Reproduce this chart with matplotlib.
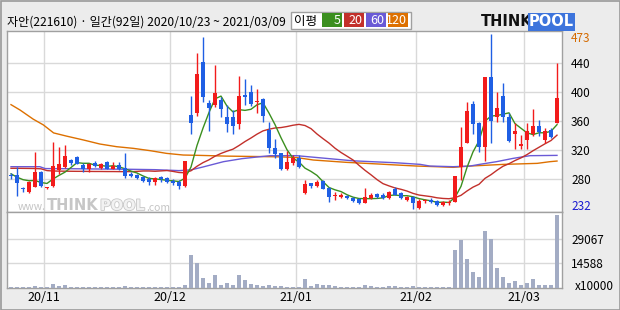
import matplotlib
matplotlib.use("Agg")
import matplotlib.pyplot as plt
import matplotlib.patheffects as pe
from matplotlib.patches import Rectangle

plt.rcParams['font.family'] = ['Noto Sans CJK KR', 'DejaVu Sans']

# ---------------- data ----------------
title = "자안(221610) · 일간(92일) 2020/10/23 ~ 2021/03/09"
month_labels = ["20/11", "20/12", "21/01", "21/02", "21/03"]
month_start_idx = [6, 27, 48, 68, 86]
price_ticks = [440, 400, 360, 320, 280]
price_max_label = "473"
price_min_label = "232"
vol_ticks = [14588, 29067]
legend_periods = ["5", "20", "60", "120"]

opens = [285.5, 286, 266.5, 262, 270, 290, 267.5, 271, 293, 297,
         306.6, 311, 299.7, 293.7, 302, 295.6, 304, 294.6, 299.7, 295,
         288, 286, 283.6, 280, 276.7, 283.6, 282, 278, 276, 271,
         368.7, 372, 441.8, 385.7, 382.5, 389, 365.5, 365.5, 356, 396,
         400.4, 386, 390.8, 348, 323.6, 316.7, 293.7, 302, 309, 260.6,
         275.3, 271, 277.6, 267.5, 256.6, 256, 257.4, 254.6, 252.8, 247.7,
         254.2, 259.7, 258.8, 253.7, 266, 260.6, 251.4, 255, 240.8, 250,
         251.4, 250, 244.5, 247.8, 249, 297, 330.5, 383.9, 357, 324,
         420.7, 365.5, 394.9, 365.5, 342, 325.9, 334, 342, 353.5, 334,
         348, 358]
highs = [289, 297, 270, 277, 317, 291, 270, 331, 325, 327,
         307.5, 312, 302, 303, 305, 303, 305.7, 304, 304, 316,
         290, 288, 285, 283.6, 283.6, 285, 283.6, 280, 279, 305.5,
         395, 454, 477, 389, 437.7, 394, 382.5, 375.6, 422.5, 419,
         410, 404.6, 391.7, 359.5, 335.6, 316.7, 319.5, 313.5, 313.5, 279,
         275.3, 279, 279, 269.8, 262, 260.6, 259, 256, 254.6, 268.4,
         261.5, 260.6, 260.6, 264.3, 269.8, 262, 257.4, 256.9, 252.3, 252.3,
         253.7, 251.4, 250.5, 251.4, 285, 352.6, 387, 388.5, 359.5, 420.7,
         480, 400.9, 413.3, 371, 357.2, 341, 357.2, 377, 361.8, 350.3,
         351, 440]
lows = [281, 257, 262, 261, 269, 270, 266, 270, 288, 295,
        300, 300.5, 290.5, 290.5, 297, 293.7, 293.7, 293.7, 292.8, 282,
        283.6, 281, 276.7, 271.6, 271.6, 276.7, 274.4, 272.6, 267, 270,
        342, 367, 387, 347, 380, 366.4, 345.7, 342, 350, 382.5,
        381, 371, 359.5, 316.7, 309, 292.8, 292.8, 299.7, 295, 259.7,
        267.5, 269.8, 266, 249, 251, 253.7, 252.3, 248.6, 245.4, 246.8,
        252.3, 253.7, 253, 252.3, 257.8, 252.3, 250, 239, 238.5, 246.8,
        246.8, 243.6, 243.6, 244.5, 248.2, 279, 330, 342.5, 318, 305.7,
        330.5, 359.5, 359.5, 332, 321.3, 321.3, 321.3, 339.7, 339.7, 329.6,
        336.5, 357]
closes = [284.8, 275.3, 266, 276, 289.6, 271, 268, 298, 301, 312,
          303, 301, 293.7, 301, 299, 301, 294.6, 298, 293.7, 285,
          285, 282, 278, 276, 282, 280.4, 276.7, 274.4, 271, 305,
          358, 425, 394, 378.8, 399.5, 376.5, 356, 354, 395, 394,
          384, 387, 367.8, 323.6, 314.9, 293.7, 304, 309.8, 296.5, 273,
          271, 276.7, 267, 256, 257, 258.8, 254.6, 250.5, 246.8, 256,
          258.8, 256, 254.6, 263, 259, 254.6, 256, 246.8, 250.5, 250.5,
          248.2, 244.5, 249, 248.2, 285, 325, 374.7, 356.3, 324, 420.7,
          360.9, 377.9, 365.5, 333.3, 346.6, 328.7, 346.6, 353.5, 345.7, 346.6,
          338.8, 392.6]
volumes = [500, 500, 500, 500, 1000, 500, 500, 2400, 1200, 1800,
           500, 500, 500, 500, 500, 500, 500, 500, 500, 1200,
           500, 500, 500, 500, 500, 500, 500, 500, 500, 2000,
           19400, 14700, 5900, 2900, 7600, 1800, 2900, 1800, 7600, 4700,
           2400, 1800, 1200, 1800, 1200, 1200, 600, 600, 600, 5300,
           1200, 2400, 1800, 1800, 1200, 600, 600, 600, 600, 1800,
           1200, 600, 600, 1200, 1200, 600, 600, 1200, 600, 600,
           600, 600, 600, 600, 22400, 28300, 17300, 9400, 6500, 33600,
           28900, 11800, 6500, 2900, 4100, 1800, 2900, 5300, 1800, 1800,
           1800, 43000]

ma5 = [287.5, 283, 279.5, 278, 278.4, 275.6, 274.3, 280.4, 285.4, 289.9,
       296.3, 303, 302.1, 302.1, 299.5, 299.1, 297.9, 298.7, 297.3, 294.5,
       291.3, 288.7, 284.7, 281.2, 280.6, 279.7, 278.6, 277.9, 276.9, 281.5,
       297, 326.7, 350.6, 372.2, 391, 394.8, 381, 373, 376.1, 375.1,
       376.6, 382.8, 385.6, 371.3, 355.5, 337.4, 320.8, 309.2, 303.8, 295.4,
       290.9, 285.4, 276.8, 268.7, 265.5, 263.1, 258.7, 255.4, 253.5, 253.3,
       253.3, 253.6, 254.4, 257.7, 258.3, 257.4, 257.4, 255.9, 253.4, 251.7,
       250.4, 248.1, 248.5, 248.1, 255, 270.3, 296.4, 317.8, 333, 360.1,
       367.3, 368, 369.8, 371.7, 356.8, 350.4, 344.1, 341.7, 344.2, 344.2,
       346.2, 355.4]
ma20 = [295.2, 295.2, 295.1, 295, 294.9, 294.5, 292, 291.5, 291.3, 291.2,
        291.1, 291, 291, 290.9, 290.8, 290.8, 290.7, 290.7, 290.6, 290.6,
        290.6, 290.9, 291.5, 291.5, 291.1, 291.6, 292.1, 290.9, 289.4, 289,
        291.8, 298, 303, 306.9, 311.9, 315.7, 318.8, 321.6, 326.6, 332.1,
        337, 342.3, 346.8, 349.1, 350.8, 351.4, 352.8, 354.6, 355.8, 354.2,
        349.9, 342.5, 336.1, 330, 322.9, 317, 311.9, 306.7, 299.3, 292.4,
        286.2, 279.6, 274, 270.9, 268.1, 266.2, 263.8, 260.6, 258.3, 257.2,
        256.1, 254.5, 253.6, 253.2, 254.6, 257.9, 263.9, 269.2, 273.1, 281.3,
        286.4, 292.5, 298, 301.5, 305.9, 309.6, 314.1, 319.4, 324.2, 329,
        333.5, 340.9]
ma60_x = [0, 4.8, 5.7, 10, 15, 20, 24, 28, 30, 32, 35.4, 38.5, 41.5, 43.2,
          47.6, 52.5, 57, 61, 64, 68.2, 69.8, 73.7, 76.5, 78.1, 80.9, 83.7,
          86.5, 91]
ma60 = [297.4, 297.4, 294.8, 294.6, 294.2, 293.8, 293.3, 292, 293, 297,
        304.3, 308.5, 311.2, 312.6, 312.6, 308.9, 305.5, 304, 302.9, 300.6,
        298.3, 297.4, 298.3, 300.6, 304.3, 308.9, 312.6, 313]
ma120_x = [0, 1.5, 3.7, 5.4, 7.1, 9.3, 12.1, 14.8, 17.6, 20.4, 23.2, 25.9,
           28.7, 31.5, 35.9, 44.8, 47.6, 50.4, 55.9, 61.5, 63.2, 67.6, 70.9,
           73.7, 76.5, 82.1, 87.7, 89.8, 91]
ma120 = [383, 375.6, 363, 355, 344, 339.5, 334.2, 328.7, 325, 322.7, 319.5,
         315.8, 313.5, 313, 312, 311, 310, 306.6, 303.4, 301, 300.2, 298.3,
         297.4, 296.5, 298.3, 300.6, 302, 304.3, 305.2]

# ---------------- style ----------------
UP = '#f21b1b'
DOWN = '#1f5fe4'
C5, C20, C60, C120 = '#3b8f1f', '#c2302b', '#6a5ad6', '#dd7000'
GRID = '#d9d9d9'
FRAME = '#a0a0a0'
BG = '#ececec'
VOLC = '#a3acc4'

W, H = 620, 310
fig = plt.figure(figsize=(6.2, 3.1), dpi=100, facecolor=BG)


def fx(x):
    return x / W


def fy(y):
    return 1 - y / H


ax = fig.add_axes([fx(7), fy(212), fx(555), 181 / H], facecolor='white')
axv = fig.add_axes([fx(7), fy(288), fx(555), 76 / H], facecolor='white')

n = len(closes)
xs = list(range(n))
xmin, xmax = -0.667, -0.667 + 555 / 6
for a in (ax, axv):
    a.set_xlim(xmin, xmax)
    for s in a.spines.values():
        s.set_color(FRAME)
        s.set_linewidth(1)
    a.set_axisbelow(True)

ax.set_ylim(234.9, 484.6)
axv.set_ylim(0, 44800)

bounds = [s - 0.5 for s in month_start_idx]

# grids
ax.set_xticks(bounds)
ax.set_xticklabels([])
ax.yaxis.tick_right()
ax.set_yticks(price_ticks)
ax.set_yticklabels([str(t) for t in price_ticks], fontsize=8.5)
ax.tick_params(axis='both', length=0)
ax.tick_params(axis='y', pad=6.5)
ax.grid(True, color=GRID, lw=1)

axv.set_xticks(bounds)
axv.set_xticklabels(month_labels, fontsize=9)
axv.yaxis.tick_right()
axv.set_yticks(vol_ticks)
axv.set_yticklabels([str(t) for t in vol_ticks], fontsize=8.5)
axv.tick_params(axis='both', length=0)
axv.tick_params(axis='y', pad=6.5)
axv.tick_params(axis='x', pad=2.5)
axv.grid(True, color=GRID, lw=1)

# watermark (chained so the pieces sit side by side)
t_www = ax.text(fx(46), fy(210), "www.", fontsize=7.5, color='#c4c4c4', ha='right',
                va='baseline', transform=fig.transFigure, zorder=0.5)
t_think = ax.text(fx(47), fy(210), "THINK", fontsize=10.5, fontweight='bold',
                  color='#c6c6c6', family='DejaVu Sans', va='baseline',
                  transform=fig.transFigure, zorder=0.5)
t_pool = ax.annotate("POOL", xy=(1, 0), xycoords=t_think, xytext=(1, 0),
                     textcoords='offset points', va='bottom', ha='left',
                     fontsize=10.5, fontweight='bold', color='#f2f2f2',
                     family='DejaVu Sans', zorder=0.5,
                     path_effects=[pe.withStroke(linewidth=1.2, foreground='#c8c8c8')])
ax.annotate(".com", xy=(1, 0), xycoords=t_pool, xytext=(1, 0),
            textcoords='offset points', va='bottom', ha='left',
            fontsize=7.5, color='#c4c4c4', zorder=0.5)

# moving averages
ax.plot(ma120_x, ma120, color=C120, lw=1, zorder=2)
ax.plot(ma60_x, ma60, color=C60, lw=1, zorder=2)
ax.plot(xs, ma20, color=C20, lw=1, zorder=2)
ax.plot(xs, ma5, color=C5, lw=1, zorder=2)

# candles
cols = [UP if c >= o else DOWN for o, c in zip(opens, closes)]
ax.vlines(xs, lows, highs, colors=cols, lw=1, zorder=3)
bottoms = [min(o, c) for o, c in zip(opens, closes)]
heights = [max(abs(c - o), 1.4) for o, c in zip(opens, closes)]
ax.bar(xs, heights, bottom=bottoms, width=0.78, color=cols, lw=0, zorder=4)

# volume
axv.bar(xs, volumes, width=0.8, color=VOLC, lw=0, zorder=3)

# right-side extreme labels
fig.text(fx(571), fy(38), price_max_label, color='#d46a00', fontsize=8.5, va='center')
fig.text(fx(571), fy(207), price_min_label, color='#1a1ad0', fontsize=8.5, va='center')
fig.text(fx(575), fy(287), "x10000", color='black', fontsize=8.5, va='center')

# title
fig.text(fx(7), fy(22.5), title, fontsize=8.7, va='center', color='black')

# legend box
fig.patches.append(Rectangle((fx(291), fy(29)), fx(120), 17 / H, transform=fig.transFigure,
                             facecolor='white', edgecolor=FRAME, lw=1))
fig.text(fx(294), fy(21), "이평", fontsize=9, va='center')
boxes = [(322, 342, C5), (344, 364, C20), (366, 386, C60), (388, 408, C120)]
for (x0, x1, c), lab in zip(boxes, legend_periods):
    fig.patches.append(Rectangle((fx(x0), fy(27)), fx(x1 - x0), 13.5 / H,
                                 transform=fig.transFigure, facecolor=c, lw=0))
    fig.text(fx(x1 - 1.5), fy(20.5), lab, fontsize=9, color='white', ha='right', va='center')

# THINKPOOL logo
fig.text(fx(481), fy(22), "THINK", fontsize=10.5, fontweight='bold', color='#111111',
         va='center', family='DejaVu Sans')
fig.text(fx(529), fy(22), "POOL", fontsize=10.5, fontweight='bold', color='white',
         va='center', family='DejaVu Sans',
         bbox=dict(boxstyle='square,pad=0.08', facecolor='#3d74dc', edgecolor='none'))

# outer frame
fig.patches.append(Rectangle((0.5 / W, 0.5 / H), 1 - 1 / W, 1 - 1 / H, transform=fig.transFigure,
                             facecolor='none', edgecolor='#9a9a9a', lw=1.2))

fig.savefig("out.png", dpi=100, facecolor=BG)
